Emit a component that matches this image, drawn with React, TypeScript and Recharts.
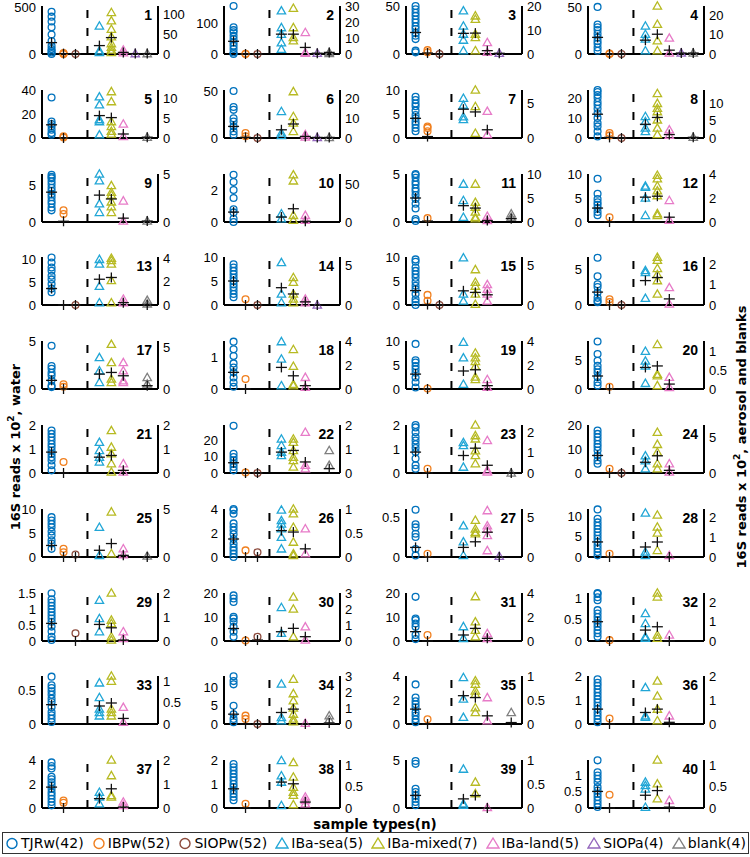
import React from 'react';
import { ScatterChart, Scatter, XAxis, YAxis, ReferenceLine } from 'recharts';

// panel ids, row-major, 4 per row
const panelIds = [
  1, 2, 3, 4, 5, 6, 7, 8, 9, 10, 11, 12, 13, 14, 15, 16, 17, 18, 19, 20,
  21, 22, 23, 24, 25, 26, 27, 28, 29, 30, 31, 32, 33, 34, 35, 36, 37, 38, 39, 40,
];

const categories = ['TJRw(42)', 'IBPw(52)', 'SIOPw(52)', 'IBa-sea(5)', 'IBa-mixed(7)', 'IBa-land(5)', 'SIOPa(4)', 'blank(4)'];

// left axis (water) limits and ticks
const waterMax = [510, 155, 50, 52, 40, 51, 10, 24, 6.6, 3, 5, 10, 10.5, 10, 10, 6.7, 5, 1.5, 10, 8.5,
  2, 29, 2, 20, 10, 4, 0.6, 11.8, 1.5, 20, 20, 1.12, 0.72, 13.2, 4, 2, 4, 2, 5, 1.45];
const waterTicks = [
  [0, 500], [0, 100], [0, 50], [0, 50], [0, 20, 40], [0, 50], [0, 5, 10], [0, 10, 20], [0, 5], [0, 2],
  [0, 5], [0, 5, 10], [0, 5, 10], [0, 5, 10], [0, 5, 10], [0, 5], [0, 5], [0, 1], [0, 5, 10], [0, 5],
  [0, 1, 2], [0, 10, 20], [0, 1, 2], [0, 10, 20], [0, 5, 10], [0, 2, 4], [0, 0.5], [0, 5, 10], [0, 0.5, 1, 1.5], [0, 10, 20],
  [0, 10, 20], [0, 0.5, 1], [0, 0.5], [0, 5, 10], [0, 2, 4], [0, 1, 2], [0, 2, 4], [0, 1, 2], [0, 5], [0, 0.5, 1],
];

// right axis (aerosol and blanks) limits and ticks
const airMax = [120, 30, 20, 25, 12, 24, 7, 14, 5, 63, 10, 4, 4.1, 6.1, 6.1, 2.36, 5.8, 4, 4, 1.27,
  2, 2, 2.36, 6.7, 5, 1, 6, 2.4, 2, 3, 4, 2.46, 1.12, 3, 1, 2, 2, 1.13, 1, 1.13];
const airTicks = [
  [0, 50, 100], [0, 10, 20, 30], [0, 10, 20], [0, 10, 20], [0, 5, 10], [0, 10, 20], [0, 5], [0, 5, 10], [0, 5], [0, 50],
  [0, 5, 10], [0, 2, 4], [0, 2, 4], [0, 5], [0, 5], [0, 1, 2], [0, 5], [0, 2, 4], [0, 2, 4], [0, 0.5, 1],
  [0, 1, 2], [0, 1, 2], [0, 1, 2], [0, 5], [0, 5], [0, 0.5, 1], [0, 5], [0, 1, 2], [0, 1, 2], [0, 1, 2, 3],
  [0, 2, 4], [0, 1, 2], [0, 0.5, 1], [0, 1, 2, 3], [0, 0.5, 1], [0, 1, 2], [0, 1, 2], [0, 0.5, 1], [0, 0.5, 1], [0, 0.5, 1],
];

const tjrw = [
  [448, 397, 345, 283, 207, 138, 86, 52, 34, 17, 0],
  [155, 86, 77, 70, 59, 48, 37, 27, 16, 5, 0],
  [50, 46.6, 43, 39.7, 36, 32.8, 29, 26, 22, 19, 15.5, 3.5, 1.7],
  [51, 32, 29, 26, 22, 18, 14, 11, 7, 3.6],
  [33.7, 13.8, 11.6, 9.7, 6.9, 4.1, 2.8],
  [50, 33, 29.9, 21, 17.6, 12.3, 7, 3.5],
  [8.6, 7.9, 7.2, 6.6, 5.7, 4.8, 4.1, 3.4, 2.8, 2.1, 1.4],
  [24, 23, 21.5, 20, 18, 16.5, 14.6, 12.4, 10, 7.5, 5.8, 3.3, 0.8],
  [6.5, 6.2, 6, 5.6, 5.2, 4.7, 4.3, 3.8, 3.4, 2.9, 2.5, 2, 1.6],
  [2.95, 2.5, 2, 1.5, 0.8, 0.6, 0.2, 0],
  [5, 4.9, 4.6, 4.2, 3.9, 3.5, 3.2, 2.8, 2.4, 1.9, 1.4, 0.3, 0.1],
  [9, 5.9, 4.8, 4.1, 3.6, 2.9, 2.1, 1.4],
  [10.4, 9.3, 8.2, 7.5, 6.4, 5.6, 4.6, 3.6, 2.8],
  [8.5, 7.8, 7.1, 6.4, 5.7, 5, 4.3, 3.7, 3, 2.3, 1.6],
  [9.5, 9, 7.8, 7.1, 6.4, 5.7, 4.8, 4, 3.3, 2.3, 1.2, 0.6, 0],
  [6.6, 4, 2.9, 2.5, 1.75, 1, 0.6, 0.4],
  [4.5, 2.4, 2.1, 1.7, 1.4, 0.9, 0.35, 0.2],
  [1.48, 1.24, 1.03, 0.8, 0.67, 0.52, 0.36, 0.2, 0.07],
  [9.4, 6, 5.5, 4.8, 4.1, 3.4, 2.4, 1.4, 0.3],
  [8.4, 6.2, 5, 4.1, 3.5, 2.9, 2.1, 1.2, 0.6],
  [1.77, 1.63, 1.49, 1.35, 1.21, 1.08, 0.94, 0.8, 0.66, 0.52, 0.32, 0.11],
  [28.5, 11.6, 9.6, 7.6, 5.6, 3.6, 1.6],
  [2, 1.9, 1.7, 1.5, 1.35, 1.2, 1.04, 0.87, 0.6, 0.32, 0.18],
  [17.7, 16.3, 14.9, 13.5, 12.1, 10.8, 9.4, 7.3, 5.2, 3.9],
  [8.3, 7.6, 6.9, 6.2, 5.3, 4.5, 3.5, 2.8, 1.7],
  [4, 3.9, 3.6, 2.8, 2.5, 2.2, 1.9, 1.5, 1.1, 0.8, 0.55, 0.28, 0],
  [0.59, 0.41, 0.37, 0.29, 0.25, 0.1, 0.02],
  [11.7, 9.4, 8.5, 7.7, 6.9, 6.1, 5.3, 4.5, 3.7, 2.8, 2, 1.2, 0.4],
  [1.49, 1.3, 1.2, 1.1, 1, 0.9, 0.8, 0.7, 0.6, 0.45, 0.3, 0.13, 0.03],
  [19, 17.7, 16.3, 10.1, 9.4, 8, 5.9, 3.9, 1.8],
  [18.4, 9.4, 8.7, 7.3, 5.9, 2.5, 0.8],
  [1.12, 1.1, 1.02, 0.95, 0.72, 0.64, 0.56, 0.48, 0.41, 0.33, 0.25, 0.18, 0.1],
  [0.71, 0.58, 0.54, 0.49, 0.44, 0.38, 0.33, 0.25, 0.18, 0.13, 0.08, 0.03],
  [13.1, 11.8, 10.9, 5, 2.7, 1.4, 0.5],
  [3.3, 2.2, 1.9, 1.65, 1.4, 0.97, 0.7, 0.4, 0.14],
  [1.86, 1.72, 1.59, 1.45, 1.31, 1.17, 1.03, 0.9, 0.76, 0.62, 0.48, 0.34, 0.21, 0.07],
  [3.8, 3.5, 3.3, 2.6, 2.4, 2.15, 1.9, 1.6, 1.3, 1.05, 0.77, 0.5, 0.22],
  [1.83, 1.7, 1.56, 1.42, 1.28, 1.15, 1, 0.87, 0.73, 0.59, 0.46, 0.32],
  [4.9, 4.6, 2, 1.66, 1.3, 0.97, 0.62, 0.28],
  [1.44, 1.08, 0.98, 0.88, 0.78, 0.63, 0.53, 0.43, 0.33, 0.23, 0.13, 0.03],
];

const ibpw = [
  [10, 3, 0], [1, 0], [4, 1.7], [0.5, 0], [1.4, 0.5], [5.3, 1.8], [2.4, 2.1, 1.4], [2.5, 1.3], [1.6, 1.1], [],
  [0.4], [1], [], [1.2], [2.1, 0.9], [0.8, 0.4], [0.5, 0.24], [0.31], [0.1], [0.4],
  [0.46], [0.3], [0.18], [1.8], [1.7, 1], [0.55], [0.04], [0.8], [], [0.2],
  [2.5], [0.02], [], [2.3, 1.4], [0.4], [0.23], [0.63, 0.44], [0.18], [], [0.4],
];

const siopw = [
  [0], [0], [0], [0], [], [0], [], [0], [], [],
  [], [], [0], [0], [0], [0], [], [], [], [],
  [], [0], [], [0], [0.5], [0.4], [], [], [0.24], [1.8],
  [], [], [], [0], [], [], [], [], [], [],
];

const ibaSea = [
  [70, 8, 4], [27, 16.5, 12.4, 7, 3], [18, 11.7, 8.3, 5.8, 1.4], [14.6, 10.3, 7.8, 1.7], [10.3, 8.3, 4.6, 4.1, 0.8],
  [13.3, 2.5, 1.3], [5.8, 4.8, 3.1, 2.7], [6.3, 4.8, 2.9, 1.9], [5, 4.3, 1.9, 1], [10.9, 4.3],
  [7.9, 4.5, 1], [3, 2.9, 2, 0.55], [3.9, 3.5, 1.6, 0.2], [5.4, 1.4, 0.3], [6, 1.4, 0.5],
  [1.7, 1.6, 0.33], [3.8, 2.2, 0.8], [3.95, 2.5, 0.28], [3.9, 2.6, 0.4], [1, 0.74, 0.61, 0.15],
  [1.28, 0.94, 0.66, 0.46], [1.42, 1.15, 0.87, 0.73], [1.5, 1.35, 0.29], [2.4, 1.7, 0.6], [3.1, 0.17],
  [0.98, 0.76, 0.69, 0.59, 0.41, 0.17], [3.9, 1.9, 0.2], [2.2, 0.25, 0.08], [1.7, 0.94, 0.39], [2.1, 0.48],
  [1.2, 0.22], [1.41, 0.9, 0.22, 0.14], [0.96, 0.62, 0.35, 0.27, 0.19], [2.5, 0.41, 0.21], [0.97, 0.52, 0.14],
  [1.52, 0.34, 0.28], [0.66, 0.46, 0.18], [1.12, 0.76, 0.61, 0.06], [0.81, 0.09, 0.06], [0.61, 0.53, 0.45, 0.02],
];

const ibaMixed = [
  [104, 83, 62, 43, 26, 17, 10, 4], [28.6, 16.5, 10.3, 8.3], [15.9, 14.5, 8.3, 6.9, 1.4], [25, 15.5, 6.9, 1.7],
  [11.6, 9.1, 4.1, 2.9, 1.7, 1], [23.2, 10.8, 7.5, 3.3], [7, 4.6, 0.7], [13, 10.1, 8.7, 7.7, 5.3, 2.9, 1],
  [3.8, 3.1, 2.8, 2.1, 1.6, 1], [62, 54, 8.7, 2.2], [7.9, 4.1, 3.1, 2.1, 1, 0.7], [3.9, 3.6, 3, 2.6, 2.2, 0.7, 0.55],
  [4, 3.8, 3.5, 2.1, 0.2], [3.5, 2.9, 1.4, 0.76, 0.3], [4.5, 2.9, 2.4, 1.4, 0.1], [2.35, 2.2, 1.8, 1.5, 1.2, 0.54],
  [5.4, 3.2, 1.2, 0.8], [3.3, 1.9, 0.4, 0.28], [3, 2.6, 2.3, 1.9, 1, 0.8], [1.18, 0.39, 0.35, 0.09],
  [1.77, 1.08, 0.8, 0.39, 0.04], [1.42, 1.28, 0.94, 0.66, 0.52, 0.25], [2.36, 1.84, 1.68, 1.1, 0.86, 0.46], [5.7, 4, 2.9, 1.3, 0.6],
  [4.7, 0.35], [1, 0.9, 0.62, 0.31, 0.07, 0.03], [4.6, 3.5, 3.1, 2.9], [2.1, 1.5, 1.2, 0.33],
  [2, 0.87, 0.73, 0.18, 0.04], [2.75, 2, 0.27], [3.7, 1.6, 0.9, 0.36], [2.46, 2.26, 0.31, 0.14],
  [1.12, 1, 0.35, 0.27, 0.19], [2.8, 1.9, 1.45, 1, 0.62, 0.31, 0.14], [0.9, 0.83, 0.69, 0.62, 0.34, 0.24], [1.79, 1.17, 0.62, 0.14],
  [2, 1.35, 0.52, 0.46], [1.07, 0.73, 0.49, 0.37, 0.3, 0.08], [0.54, 0.3], [1.13, 0.57, 0.22],
];

const ibaLand = [
  [10, 3], [13.5, 1, 0.5], [4.8, 0.7], [8.3, 0.5], [3.5, 0.4], [1.7, 0.5], [3.9, 0.5], [2.4, 0.8], [2.2, 0.1], [8.7, 2.2],
  [1.2, 0.3], [1.8, 0.14], [0.5, 0.2], [0.76, 0.3], [2.6, 2, 1.4, 0.5], [0.86, 0.05], [3.2, 2.2, 1, 0.8], [0.97, 0.14], [0.8, 0.14], [0.31, 0.04],
  [0.39, 0.04], [1.7, 0.32, 0.18], [1.6, 0.13, 0.05], [1.3, 0.14], [0.86, 0.24], [0.59, 0.07], [5.8, 3.9, 3.5, 2.7, 0.8], [0.08], [0.39, 0.11], [0.89, 0.06],
  [0.63, 0.22], [0.31], [0.39, 0.04], [0.05], [0.55, 0.07], [0.34], [0.25, 0.11], [0.26, 0.18, 0.1], [0.01], [0.18],
];

const siopa = [
  [1], [0.5], [0.3], [0.5], [], [0.3], [], [], [], [],
  [], [], [], [0], [], [], [], [], [], [],
  [], [], [], [], [], [], [0.1], [], [], [],
  [], [], [], [], [], [], [], [], [], [],
];

const blank = [
  [1], [1, 0.4], [], [0.5], [0.2], [0.3], [], [0.2], [0.1], [],
  [1.7, 1], [], [0.4, 0.1], [], [], [], [1.4, 0.6], [], [], [],
  [], [0.94, 0.32], [0], [], [0.1], [], [], [], [], [],
  [], [], [], [0.52, 0.27], [0.24], [], [], [], [], [],
];

// group means, order: TJRw, IBPw, SIOPw, IBa-sea, IBa-mixed, IBa-land, SIOPa, blank
const means: (number | null)[][] = [
  [121, 4, 0.5, 21, 41, 4, 1, 1],
  [41, 0, 0, 12.4, 12.4, 4.1, 0.5, 1],
  [22.4, 1, 0, 8.6, 8.7, 1.4, 0.3, null],
  [18, 0, 0, 7.2, 10.3, 2, 0.5, 0.5],
  [11, 0, null, 5.6, 5.1, 1, null, 0.2],
  [12.3, 0.7, 0, 4.1, 7, 0.8, 0.3, 0.3],
  [4.1, 0.3, null, 4.2, 3.8, 1.2, null, null],
  [11.9, 0.3, 0, 4, 6, 1, null, 0.2],
  [4.1, 0.1, null, 2.8, 2.4, 0.4, null, 0.1],
  [0.62, null, null, 6.5, 17.4, 1, null, null],
  [2.5, 0.1, null, 3.4, 2.9, 0.3, null, 0.7],
  [2.9, 0, null, 2.07, 2.15, 0.4, null, null],
  [3.6, 0, 0, 2.2, 2.35, 0.2, null, 0],
  [5, 0, 0, 2.2, 1.4, 0.4, 0, null],
  [3, 0.1, 0, 1.8, 1.6, 1.3, null, null],
  [1.8, 0, 0, 1.2, 1.35, 0.3, null, null],
  [0.9, 0, null, 1.8, 2, 1.6, null, 0.4],
  [0.52, 0, null, 1.8, 1.1, 0.28, null, null],
  [3.1, 0, null, 1.5, 1.6, 0.28, null, null],
  [2.3, 0, null, 0.57, 0.61, 0.13, null, null],
  [0.87, 0, null, 0.66, 0.73, 0.11, null, null],
  [6.2, 0, 0, 0.87, 0.94, 0.46, null, 0.18],
  [0.87, 0, null, 0.86, 1.22, 0.38, null, 0],
  [7.3, 0, 0, 1.5, 2.4, 0.37, null, null],
  [2.4, 0, 0, 0.7, 1.4, 0.17, null, 0],
  [1.5, 0, 0, 0.55, 0.52, 0.17, null, null],
  [0.12, 0, null, 1.2, 1.9, 3.1, 0, null],
  [3.7, 0, null, 0.5, 0.75, 0, null, null],
  [0.55, null, 0, 0.69, 0.55, 0.04, null, null],
  [5.2, 0, 0.4, 0.58, 0.79, 0.27, null, null],
  [3.9, 0, null, 0.5, 1.05, 0.22, null, null],
  [0.45, 0, null, 0.56, 0.73, 0, null, null],
  [0.29, null, null, 0.42, 0.49, 0.13, null, null],
  [2.7, 0, 0, 0.72, 0.93, 0, null, 0.06],
  [1.24, 0, null, 0.59, 0.55, 0.17, null, 0.03],
  [0.62, 0, null, 0.48, 0.62, 0.07, null, null],
  [1.74, 0, null, 0.39, 0.8, 0.04, null, null],
  [0.8, 0, null, 0.61, 0.57, 0.14, null, null],
  [1.31, null, null, 0.19, 0.26, 0, null, null],
  [0.5, 0, null, 0.3, 0.41, 0.02, null, null],
];

const series = [tjrw, ibpw, siopw, ibaSea, ibaMixed, ibaLand, siopa, blank];
const colors = ['#0072BD', '#F07F1E', '#8C4A3C', '#21A6D6', '#B7BA22', '#E77BC8', '#9467BD', '#7F7F7F'];
const xPos = [1, 2, 3, 5, 6, 7, 8, 9];
const isWater = [true, true, true, false, false, false, false, false];

const TICK_FONT = '"Liberation Sans", Arial, sans-serif';
const PLOT_H = 48;
const M_TOP = 9;
const M_BOT = 9;
const LEFT_W = 34;
const RIGHT_W = 30;
const PLOT_W = 116;
const CHART_W = LEFT_W + PLOT_W + RIGHT_W;
const CHART_H = M_TOP + PLOT_H + 1 + M_BOT;

const circleShape = (color: string, r = 3.4) => (p: any) =>
  p.cx == null ? <g /> : <circle cx={p.cx} cy={p.cy} r={r} fill="none" stroke={color} strokeWidth={1.3} />;

const triangleShape = (color: string, s = 4.2) => (p: any) =>
  p.cx == null ? <g /> : (
    <path
      d={`M${p.cx},${p.cy - s} L${p.cx + s},${p.cy + s * 0.75} L${p.cx - s},${p.cy + s * 0.75} Z`}
      fill="none" stroke={color} strokeWidth={1.3} strokeLinejoin="miter"
    />
  );

const plusShape = (p: any) =>
  p.cx == null ? <g /> : (
    <g stroke="#111" strokeWidth={1.3}>
      <line x1={p.cx - 5.5} y1={p.cy} x2={p.cx + 5.5} y2={p.cy} />
      <line x1={p.cx} y1={p.cy - 5} x2={p.cx} y2={p.cy + 5} />
    </g>
  );

const Panel = ({ i }: { i: number }) => {
  const row = Math.floor(i / 4);
  const col = i % 4;
  const base = 54 + 83.8 * row;
  const left = 8 + 182 * col;
  const top = base - PLOT_H - M_TOP;
  const m = means[i];
  const waterMeans = [0, 1, 2].filter((k) => m[k] != null).map((k) => ({ x: xPos[k], y: m[k] }));
  const airMeans = [3, 4, 5, 6, 7].filter((k) => m[k] != null).map((k) => ({ x: xPos[k], y: m[k] }));
  const tick = { fontSize: 13, fill: '#000', fontFamily: TICK_FONT };

  return (
    <div style={{ position: 'absolute', left, top, width: CHART_W, height: CHART_H }}>
      <ScatterChart width={CHART_W} height={CHART_H} margin={{ top: M_TOP, right: 0, bottom: M_BOT, left: 0 }}>
        <XAxis type="number" dataKey="x" domain={[0.2, 9.9]} tick={false} tickLine={false} height={1}
          axisLine={{ stroke: '#000', strokeWidth: 2 }} />
        <YAxis yAxisId="w" type="number" dataKey="y" width={LEFT_W} domain={[0, waterMax[i]]} ticks={waterTicks[i]}
          interval={0} tickLine={false} tickSize={4} tickMargin={2} tick={tick}
          axisLine={{ stroke: '#000', strokeWidth: 2 }} />
        <YAxis yAxisId="a" orientation="right" type="number" dataKey="y" width={RIGHT_W} domain={[0, airMax[i]]}
          ticks={airTicks[i]} interval={0} tickLine={false} tickSize={3} tickMargin={2} tick={tick}
          axisLine={{ stroke: '#000', strokeWidth: 2 }} />
        <ReferenceLine x={4} yAxisId="w" stroke="#000" strokeWidth={2} strokeDasharray="8 10" />
        {series.map((s, k) => (
          <Scatter
            key={categories[k]}
            name={categories[k]}
            yAxisId={isWater[k] ? 'w' : 'a'}
            data={s[i].map((v) => ({ x: xPos[k], y: v }))}
            shape={isWater[k] ? circleShape(colors[k]) : triangleShape(colors[k])}
            isAnimationActive={false}
          />
        ))}
        <Scatter yAxisId="w" data={waterMeans} shape={plusShape} isAnimationActive={false} />
        <Scatter yAxisId="a" data={airMeans} shape={plusShape} isAnimationActive={false} />
      </ScatterChart>
      <div style={{
        position: 'absolute', left: LEFT_W + PLOT_W - 48, top: M_TOP + 1, width: 42, textAlign: 'right',
        fontFamily: TICK_FONT, fontWeight: 'bold', fontSize: 14, lineHeight: '16px', color: '#000',
      }}>
        {panelIds[i]}
      </div>
    </div>
  );
};

const LegendMarker = ({ k }: { k: number }) => (
  <svg width={14} height={16} style={{ marginRight: 2 }}>
    {isWater[k]
      ? <circle cx={7} cy={8.5} r={5} fill="none" stroke={colors[k]} strokeWidth={1.4} />
      : <path d="M7,3 L13,13 L1,13 Z" fill="none" stroke={colors[k]} strokeWidth={1.4} />}
  </svg>
);

const App = () => {
  return (
    <div style={{ position: 'absolute', left: 0, top: 0, width: 750, height: 857, background: '#fff', overflow: 'hidden' }}>
      <svg width={750} height={857} style={{ position: 'absolute', left: 0, top: 0 }}>
        <text transform="translate(20,447) rotate(-90)" textAnchor="middle"
          fontFamily="'DejaVu Sans', Verdana, sans-serif" fontWeight="bold" fontSize={13} fill="#000">
          16S reads x 10<tspan dy={-6} fontSize={9}>2</tspan><tspan dy={6}>, water</tspan>
        </text>
        <text transform="translate(746,437) rotate(-90)" textAnchor="middle"
          fontFamily="'DejaVu Sans', Verdana, sans-serif" fontWeight="bold" fontSize={13} fill="#000">
          16S reads x 10<tspan dy={-6} fontSize={9}>2</tspan><tspan dy={6}>, aerosol  and blanks</tspan>
        </text>
        <text x={375} y={828.5} textAnchor="middle"
          fontFamily="'DejaVu Sans', Verdana, sans-serif" fontWeight="bold" fontSize={13.5} fill="#000">
          sample types(n)
        </text>
      </svg>
      {panelIds.map((id, i) => <Panel key={id} i={i} />)}
      <div style={{
        position: 'absolute', left: 2, top: 832, width: 741, height: 20, border: '1.5px solid #333',
        display: 'flex', alignItems: 'center', justifyContent: 'space-between', padding: '0 2px',
        fontFamily: "'DejaVu Sans', Verdana, sans-serif", fontSize: 14, color: '#000', background: '#fff',
      }}>
        {categories.map((c, k) => (
          <span key={c} style={{ display: 'flex', alignItems: 'center', whiteSpace: 'nowrap' }}>
            <LegendMarker k={k} />{c}
          </span>
        ))}
      </div>
    </div>
  );
};

export default App;
